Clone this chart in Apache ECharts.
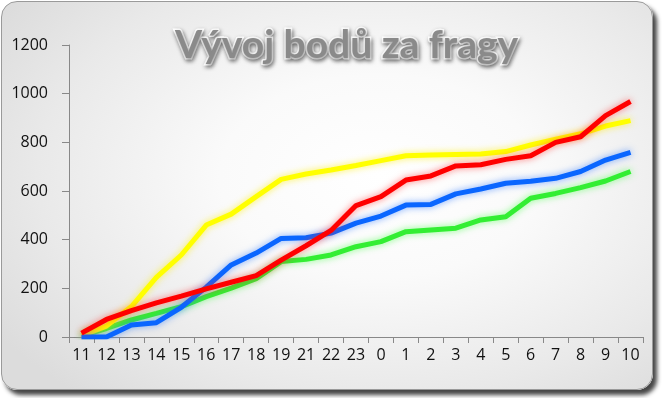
<!DOCTYPE html>
<html><head><meta charset="utf-8">
<script src="https://cdn.jsdelivr.net/npm/echarts@6/dist/echarts.min.js"></script>
<style>
html,body{margin:0;padding:0;background:#fff;width:662px;height:398px;overflow:hidden}
#frame{position:absolute;left:1px;top:1px;width:650px;height:387px;border-radius:16px;border:1px solid #9a9a9a;
background:radial-gradient(ellipse 70% 75% at 58% 45%, #ffffff 0%, #fafafa 35%, #e9e9e9 75%, #dcdcdc 100%);
box-shadow:4px 5px 4px rgba(50,50,50,0.9)}
#c{position:absolute;left:0;top:0;width:662px;height:398px}
</style></head>
<body><div id="frame"></div><div id="c"></div>
<script>
const categories=['11','12','13','14','15','16','17','18','19','21','22','23','0','1','2','3','4','5','6','7','8','9','10'];
const redValues=[16,72,108,140,168,198,225,252,316,375,438,540,577,645,662,703,708,730,745,800,823,910,968];
const yellowValues=[5,45,125,245,337,460,505,577,648,670,686,705,725,745,748,750,752,762,789,813,835,867,889];
const blueValues=[0,0,49,59,122,205,296,345,405,408,427,468,497,542,545,588,608,632,640,652,680,727,759];
const greenValues=[5,35,70,97,125,166,201,240,310,319,337,371,392,433,440,447,481,494,570,590,614,641,680];
const titleText='Vývoj bodů za fragy';

function mk(name,data,color,glow){
  return {name:name,type:'line',data:data,symbol:'none',smooth:false,
    lineStyle:{color:color,width:5,shadowColor:glow,shadowBlur:7},
    itemStyle:{color:color}};
}
const chart=echarts.init(document.getElementById('c'),null,{renderer:'canvas'});
chart.setOption({
  backgroundColor:'transparent',
  animation:false,
  title:{text:titleText,left:170,top:21,
    textStyle:{fontFamily:'Lato',fontWeight:'bold',fontSize:39,color:'#8a8a8a',
      textBorderColor:'#ffffff',textBorderWidth:3,textShadowColor:'rgba(0,0,0,0.45)',textShadowBlur:4,textShadowOffsetX:1,textShadowOffsetY:2}},
  grid:{left:69,right:19,top:45,bottom:61},
  xAxis:{type:'category',data:categories,boundaryGap:true,
    axisLine:{lineStyle:{color:'#888',width:1}},
    axisTick:{show:true,alignWithLabel:false,length:6,lineStyle:{color:'#888'}},
    axisLabel:{color:'#111',fontFamily:'Open Sans',fontSize:16,margin:10,interval:0},
    splitLine:{show:false}},
  yAxis:{type:'value',min:0,max:1200,interval:200,
    axisLine:{show:true,lineStyle:{color:'#888',width:1}},
    axisTick:{show:true,length:7,lineStyle:{color:'#888'}},
    axisLabel:{color:'#111',fontFamily:'Open Sans',fontSize:16,margin:21,formatter:function(v){return String(v);}},
    splitLine:{show:false}},
  series:[
    mk('green',greenValues,'#33ee33','rgba(80,255,80,0.7)'),
    mk('yellow',yellowValues,'#ffff00','rgba(255,240,0,0.7)'),
    mk('blue',blueValues,'#0a66ff','rgba(60,130,255,0.7)'),
    mk('red',redValues,'#ff0000','rgba(255,40,40,0.6)')
  ]
});
</script></body></html>
